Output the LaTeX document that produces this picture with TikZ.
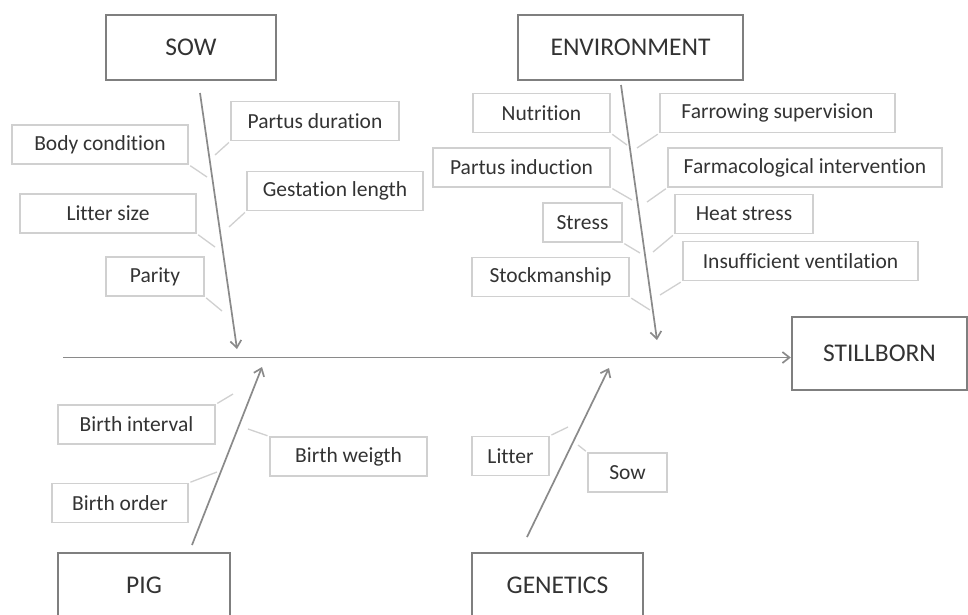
\documentclass[tikz,border=0pt]{standalone}
\usepackage{fontspec}
\setmainfont{Carlito}[Ligatures=NoCommon]
\usetikzlibrary{arrows.meta,calc}
\definecolor{frame}{HTML}{7F7F7F}
\definecolor{faint}{HTML}{D0D0D0}
\definecolor{bonec}{HTML}{8A8A8A}
\definecolor{txt}{HTML}{333333}

\begin{document}
\begin{tikzpicture}[x=1pt,y=-1pt,
 cause/.style={draw=frame,line width=2.4pt,fill=white,text=txt,inner sep=0pt,
 minimum height=65pt,font=\fontsize{25.5}{30}\selectfont},
 factor/.style={draw=faint,line width=1.2pt,inner sep=0pt,minimum height=39pt,
 text=txt,font=\fontsize{21.5}{25}\selectfont},
 bone/.style={draw=bonec,line width=1.7pt,-{Straight Barb[length=7pt,width=11pt]}},
 rib/.style={draw=faint,line width=1.3pt,shorten <=2pt}]
\clip (0,0) rectangle (968,614);
\fill[white] (0,0) rectangle (968,614);
% main causes
\node[cause,minimum width=170pt] (sow) at (191,47.5) {SOW};
\node[cause,minimum width=225pt] (env) at (630.5,47.5) {ENVIRONMENT};
\node[cause,minimum width=172pt] (pig) at (144,585.5) {PIG};
\node[cause,minimum width=171pt] (gen) at (557.5,585.5) {GENETICS};
\node[cause,minimum width=175pt,minimum height=73pt] (still) at (879.5,353.5) {STILLBORN};
% sow factors
\node[factor,minimum width=176pt] (bc) at (100,144.5) {Body condition};
\node[factor,minimum width=176pt] (ls) at (108,213.5) {Litter size};
\node[factor,minimum width=98pt] (par) at (155,276.5) {Parity};
\node[factor,minimum width=168pt] (pd) at (315,121) {Partus duration};
\node[factor,minimum width=176pt] (gl) at (335,191) {Gestation length};
% environment factors
\node[factor,minimum width=137pt] (nut) at (541.5,113) {Nutrition};
\node[factor,minimum width=177pt] (pi) at (521.5,167.5) {Partus induction};
\node[factor,minimum width=79pt] (str) at (582.5,222.5) {Stress};
\node[factor,minimum width=157pt] (stk) at (550.5,277) {Stockmanship};
\node[factor,minimum width=235pt] (fs) at (777.5,113) {Farrowing supervision};
\node[factor,minimum width=274pt] (fi) at (805,167.5) {Farmacological intervention};
\node[factor,minimum width=138pt] (hs) at (744,214) {Heat stress};
\node[factor,minimum width=235pt] (iv) at (800.5,261) {Insufficient ventilation};
% pig and genetics factors
\node[factor,minimum width=157pt] (bi) at (136.5,424.5) {Birth interval};
\node[factor,minimum width=136pt] (bo) at (120,503) {Birth order};
\node[factor,minimum width=157pt] (bw) at (348.5,456.5) {Birth weigth};
\node[factor,minimum width=77pt] (lit) at (510.5,456) {Litter};
\node[factor,minimum width=79pt] (sw) at (627.5,472.5) {Sow};
% bones
\coordinate (sowA) at (200,93); \coordinate (sowB) at (237,349);
\coordinate (envA) at (621,85); \coordinate (envB) at (657,340);
\coordinate (pigA) at (192,545); \coordinate (pigB) at (262,367);
\coordinate (genA) at (527,537); \coordinate (genB) at (609,368);
\coordinate (tail) at (63,357.5);
\draw[bone] (tail)--(tail-|still.west);
\draw[bone] (sowA)--(sowB);\draw[bone] (envA)--(envB);
\draw[bone] (pigA)--(pigB);\draw[bone] (genA)--(genB);
% ribs
\foreach \c/\x/\y in {bcR/207/177,lsR/215/247,parR/222/311,pdR/215/155,glR/229/227,
 nutR/627/145,piR/632/200,strR/640/253,stkR/650/310,fsR/637/148,fiR/647/202,
 hsR/653/252,ivR/660/295,biR/233/394,boR/217/472,bwR/248/429,litR/568/427,swR/578/445}
 \coordinate (\c) at (\x,\y);
\foreach \n in {bc,ls,par,nut,pi,str,stk} \draw[rib] (\n.south east)--(\n R);
\foreach \n in {pd,gl,fs,fi,hs,iv} \draw[rib] (\n.south west)--(\n R);
\foreach \n in {bi,bo,lit} \draw[rib] (\n.north east)--(\n R);
\foreach \n in {bw,sw} \draw[rib] (\n.north west)--(\n R);
\end{tikzpicture}
\end{document}
